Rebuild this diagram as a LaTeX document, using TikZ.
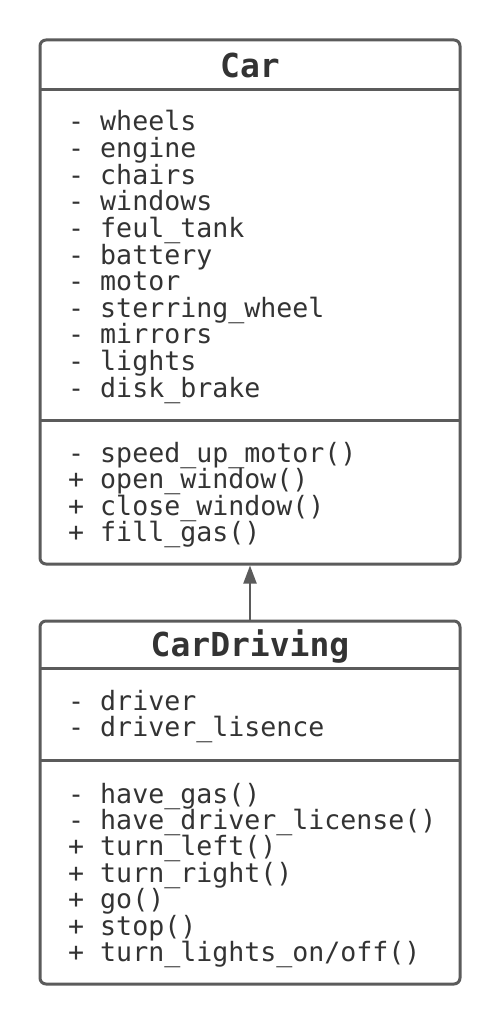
\documentclass[tikz,border=0pt]{standalone}
\usepackage{fontspec}
\setmonofont{DejaVu Sans Mono}
\usetikzlibrary{arrows.meta}
\definecolor{edge}{HTML}{5B5B5B}
\definecolor{ink}{HTML}{333333}
\tikzset{
  classbox/.style={draw=edge, line width=3pt, rounded corners=6pt, fill=white, inner sep=0pt},
  divider/.style={draw=edge, line width=3pt},
  member/.style={anchor=base west, inner sep=0pt, text=ink, font=\ttfamily\fontsize{26.6}{26.6}\selectfont},
  title/.style={anchor=base, inner sep=0pt, text=ink, font=\ttfamily\bfseries\fontsize{33}{33}\selectfont},
  inherit/.style={draw=edge, line width=2pt, -{Triangle[width=13pt,length=18pt]}}
}
\begin{document}
\begin{tikzpicture}[x=1pt,y=-1pt]
\useasboundingbox (0,0) rectangle (500,1024);
% Car
\node[classbox, minimum width=420pt, minimum height=524pt] (car) at (250,302) {};
\coordinate (c1l) at (40,90); \coordinate (c1r) at (460,90);
\coordinate (c2l) at (40,420); \coordinate (c2r) at (460,420);
\draw[divider] (c1l) -- (c1r);
\draw[divider] (c2l) -- (c2r);
\node[title] (cart) at (250,77.5) {Car};
\node[member] (a1) at (68,131) {- wheels};
\node[member] (a2) at (68,157.6) {- engine};
\node[member] (a3) at (68,184.2) {- chairs};
\node[member] (a4) at (68,210.8) {- windows};
\node[member] (a5) at (68,237.4) {- feul\_tank};
\node[member] (a6) at (68,264) {- battery};
\node[member] (a7) at (68,290.6) {- motor};
\node[member] (a8) at (68,317.2) {- sterring\_wheel};
\node[member] (a9) at (68,343.8) {- mirrors};
\node[member] (a10) at (68,370.4) {- lights};
\node[member] (a11) at (68,397) {- disk\_brake};
\node[member] (m1) at (68,462) {- speed\_up\_motor()};
\node[member] (m2) at (68,488.6) {+ open\_window()};
\node[member] (m3) at (68,515.2) {+ close\_window()};
\node[member] (m4) at (68,541.8) {+ fill\_gas()};
% CarDriving
\node[classbox, minimum width=420pt, minimum height=363pt] (drv) at (250,802.5) {};
\coordinate (d1l) at (40,668); \coordinate (d1r) at (460,668);
\coordinate (d2l) at (40,760); \coordinate (d2r) at (460,760);
\draw[divider] (d1l) -- (d1r);
\draw[divider] (d2l) -- (d2r);
\node[title] (drvt) at (250,656.5) {CarDriving};
\node[member] (b1) at (68,710) {- driver};
\node[member] (b2) at (68,736.6) {- driver\_lisence};
\node[member] (n1) at (68,803) {- have\_gas()};
\node[member] (n2) at (68,829.4) {- have\_driver\_license()};
\node[member] (n3) at (68,855.8) {+ turn\_left()};
\node[member] (n4) at (68,882.2) {+ turn\_right()};
\node[member] (n5) at (68,908.6) {+ go()};
\node[member] (n6) at (68,935) {+ stop()};
\node[member] (n7) at (68,961.4) {+ turn\_lights\_on/off()};
% inheritance
\draw[inherit] (drv.north) -- (car.south);
\end{tikzpicture}
\end{document}
